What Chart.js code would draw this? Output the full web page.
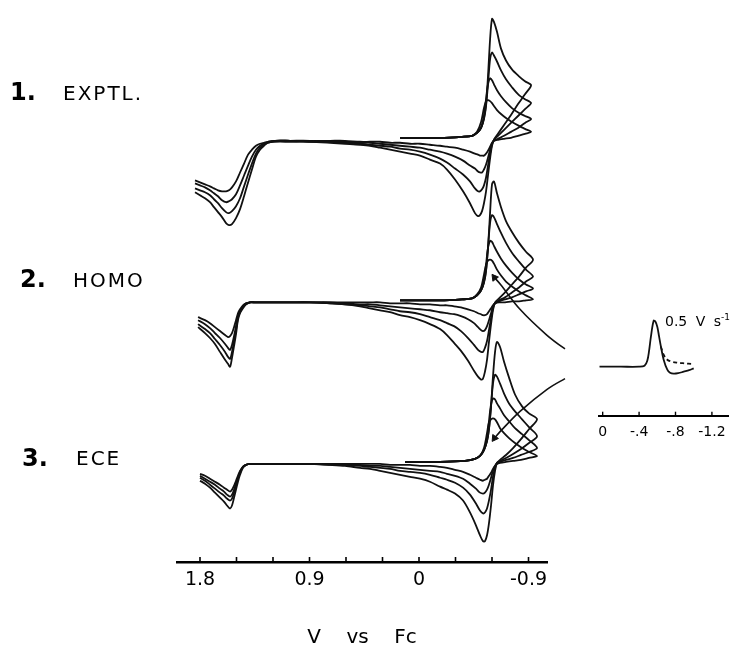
<!DOCTYPE html>
<html>
<head>
<meta charset="utf-8">
<script src="https://cdn.jsdelivr.net/npm/chart.js@4.4.1/dist/chart.umd.min.js"></script>
<style>
  html, body { margin: 0; padding: 0; background: #fff; }
  #wrap { position: relative; width: 737px; height: 648px; overflow: hidden; background: #fff; }
  #main { position: absolute; left: 0; top: 0; }
  #inset { position: absolute; left: 590px; top: 300px; }
  .lbl { position: absolute; font-family: "DejaVu Sans", sans-serif; color: #000; white-space: nowrap; line-height: 1; }
  .num { font-weight: bold; font-size: 24px; }
  .name { font-size: 20px; letter-spacing: 2px; }
  .rate { font-size: 14px; word-spacing: 4px; }
</style>
</head>
<body>
<div id="wrap">
  <canvas id="main" width="737" height="648"></canvas>
  <canvas id="inset" width="147" height="150"></canvas>
  <div class="lbl num" style="left:10px;top:80px">1.</div>
  <div class="lbl name" style="left:63px;top:83px">EXPTL.</div>
  <div class="lbl num" style="left:20px;top:267px">2.</div>
  <div class="lbl name" style="left:73px;top:270px">HOMO</div>
  <div class="lbl num" style="left:22px;top:446px">3.</div>
  <div class="lbl name" style="left:76px;top:448px">ECE</div>
  <div class="lbl rate" style="left:665px;top:313px">0.5 V s<sup style="font-size:9px">-1</sup></div>
</div>
<script>
// ---------------- main x axis ----------------
const xTickValues = [1.8, 1.5, 1.2, 0.9, 0.6, 0.3, 0, -0.3, -0.6, -0.9];
const xTickLabels = ['1.8', '', '', '0.9', '', '', '0', '', '', '-0.9'];
const xTitle = 'V    vs    Fc';

// vertical offsets of the three stacked panels (current units)
const panelOffset = [426, 263, 100];

// ---------------- panel 1 : EXPTL. ----------------
const p1FwdE = [0.156, -0.173, -0.353, -0.436, -0.477, -0.510, -0.534, -0.551, -0.567, -0.584, -0.600, -0.616, -0.641, -0.674, -0.715, -0.764, -0.822, -0.871, -0.921];
const p1FwdI = [
  [2, 2, 3, 4, 7, 12, 22, 36, 64, 101, 122, 119, 109, 92, 80, 71, 64, 59, 55],
  [2, 2, 3, 4, 7, 12, 21, 34, 56, 81, 88, 85, 79, 70, 61, 53, 45, 41, 37],
  [2, 2, 3, 4, 7, 12, 24, 41, 56, 62, 60, 56, 50, 44, 38, 32, 27, 24, 21],
  [2, 2, 3, 4, 8, 18, 32, 39, 40, 39, 37, 34, 30, 26, 22, 18, 14, 11, 8]
];
const p1RevE = [-0.871, -0.814, -0.756, -0.699, -0.649, -0.616, -0.600, -0.584, -0.567, -0.551, -0.534, -0.518, -0.501, -0.485, -0.460, -0.419, -0.362, -0.296, -0.230, -0.173, -0.090, -0.008, 0.074, 0.156, 0.238, 0.320, 0.403, 0.485, 0.608, 0.731, 0.896, 1.060, 1.184];
const p1RevI = [
  [46, 36, 25, 15, 6, 0, -6, -19, -36, -52, -64, -72, -76, -77, -74, -64, -52, -40, -30, -24, -20, -16, -14, -12, -10, -8, -6, -5, -4, -3, -2, -2, -2],
  [31, 24, 17, 10, 4, 0, -5, -14, -26, -38, -46, -50, -52, -52, -49, -42, -35, -29, -23, -19, -15, -12, -10, -9, -7, -6, -5, -4, -3, -2, -2, -1, -1],
  [17, 12, 8, 4, 1, -1, -4, -10, -18, -25, -30, -33, -33, -32, -29, -26, -21, -17, -14, -12, -10, -8, -7, -6, -5, -4, -3, -3, -2, -2, -1, -1, -1],
  [6, 4, 2, 1, 0, -1, -3, -7, -11, -14, -16, -16, -16, -15, -14, -12, -10, -8, -7, -6, -5, -4, -4, -3, -3, -2, -2, -2, -1, -1, -1, -1, -1]
];
const p1LeftE = [1.241, 1.274, 1.307, 1.340, 1.373, 1.405, 1.438, 1.471, 1.504, 1.537, 1.562, 1.586, 1.619, 1.652, 1.685, 1.718, 1.759, 1.800, 1.841];
const p1LeftI = [
  [-3, -6, -10, -17, -30, -43, -57, -70, -79, -85, -86, -84, -78, -73, -68, -63, -59, -56, -53],
  [-3, -5, -8, -14, -24, -35, -47, -59, -67, -72, -74, -73, -69, -64, -60, -56, -53, -51, -49],
  [-2, -4, -6, -10, -17, -26, -36, -46, -55, -60, -62, -63, -61, -57, -54, -51, -48, -46, -44],
  [-2, -3, -4, -6, -10, -15, -24, -33, -42, -48, -51, -52, -52, -51, -49, -47, -45, -43, -41]
];

// ---------------- panel 2 : HOMO ----------------
const p2FwdE = [0.156, -0.173, -0.353, -0.436, -0.477, -0.510, -0.534, -0.551, -0.567, -0.584, -0.600, -0.616, -0.641, -0.674, -0.715, -0.764, -0.822, -0.879, -0.937];
const p2FwdI = [
  [1, 1, 2, 3, 6, 11, 19, 31, 54, 89, 118, 121, 109, 95, 81, 70, 59, 50, 42],
  [1, 1, 2, 3, 6, 11, 19, 31, 54, 79, 87, 85, 78, 69, 59, 49, 40, 32, 25],
  [1, 1, 2, 3, 6, 11, 21, 37, 54, 61, 60, 56, 50, 43, 36, 29, 22, 17, 13],
  [1, 1, 2, 3, 7, 14, 27, 37, 41, 42, 41, 38, 32, 26, 20, 15, 10, 6, 2]
];
const p2RevE = [-0.879, -0.822, -0.764, -0.707, -0.658, -0.625, -0.608, -0.592, -0.575, -0.559, -0.542, -0.526, -0.510, -0.485, -0.452, -0.403, -0.345, -0.288, -0.230, -0.173, -0.090, -0.008, 0.074, 0.156, 0.238, 0.320, 0.403, 0.485, 0.608, 0.731, 0.896, 1.060, 1.225, 1.348];
const p2RevI = [
  [34, 25, 17, 9, 3, -1, -9, -23, -41, -59, -71, -78, -79, -76, -70, -60, -50, -42, -34, -28, -23, -19, -16, -14, -11, -9, -7, -5, -3, -2, -1, -1, -1, -1],
  [20, 14, 9, 4, 1, -2, -7, -17, -29, -40, -47, -51, -51, -49, -44, -37, -30, -25, -22, -19, -16, -13, -11, -10, -8, -6, -5, -4, -3, -2, -1, -1, -1, -1],
  [10, 7, 4, 2, 0, -2, -5, -12, -19, -25, -29, -30, -29, -26, -22, -18, -15, -13, -12, -11, -9, -8, -7, -6, -5, -4, -3, -3, -2, -1, -1, -1, -1, -1],
  [1, 0, 0, -1, -1, -2, -4, -7, -10, -13, -14, -14, -13, -12, -10, -8, -6, -5, -4, -4, -3, -3, -2, -2, -2, -1, -1, -1, -1, -1, -1, -1, -1, -1]
];
const p2LeftE = [1.389, 1.422, 1.447, 1.471, 1.488, 1.504, 1.520, 1.537, 1.553, 1.570, 1.594, 1.636, 1.677, 1.718, 1.759, 1.816];
const p2LeftI = [
  [-1, -3, -7, -12, -19, -33, -45, -57, -66, -63, -59, -51, -43, -37, -32, -26],
  [-1, -3, -6, -11, -17, -29, -40, -51, -58, -56, -51, -44, -38, -32, -28, -23],
  [-1, -2, -5, -10, -15, -25, -35, -44, -49, -47, -43, -37, -32, -27, -23, -19],
  [-1, -2, -4, -8, -12, -19, -26, -32, -35, -36, -34, -30, -26, -22, -19, -16]
];

// ---------------- panel 3 : ECE ----------------
const p3FwdE = [0.115, -0.173, -0.378, -0.460, -0.501, -0.534, -0.559, -0.575, -0.592, -0.608, -0.625, -0.641, -0.666, -0.699, -0.740, -0.789, -0.847, -0.904, -0.970];
const p3FwdI = [
  [1, 1, 2, 4, 7, 13, 22, 34, 57, 87, 112, 122, 117, 102, 86, 69, 57, 50, 44],
  [1, 1, 2, 4, 7, 13, 22, 34, 57, 80, 89, 87, 80, 70, 60, 52, 44, 36, 27],
  [1, 1, 2, 4, 7, 13, 24, 42, 59, 65, 64, 60, 55, 48, 42, 35, 29, 23, 15],
  [1, 1, 2, 4, 7, 15, 30, 41, 44, 45, 44, 41, 35, 30, 25, 20, 15, 11, 7]
];
const p3RevE = [-0.904, -0.838, -0.773, -0.715, -0.666, -0.641, -0.625, -0.608, -0.592, -0.575, -0.559, -0.542, -0.526, -0.501, -0.468, -0.419, -0.362, -0.296, -0.230, -0.173, -0.090, -0.008, 0.074, 0.156, 0.238, 0.320, 0.403, 0.485, 0.608, 0.731, 0.896, 1.060, 1.225, 1.348];
const p3RevI = [
  [34, 24, 15, 8, 3, 0, -8, -23, -43, -61, -73, -79, -79, -73, -63, -50, -38, -31, -27, -24, -19, -16, -14, -12, -10, -8, -6, -5, -3, -2, -1, -1, -1, -1],
  [20, 14, 9, 5, 2, 0, -5, -14, -27, -38, -46, -50, -51, -48, -41, -32, -25, -20, -17, -15, -12, -10, -9, -8, -6, -5, -4, -3, -2, -2, -1, -1, -1, -1],
  [11, 8, 5, 3, 1, 0, -3, -8, -15, -22, -27, -30, -31, -30, -26, -21, -16, -13, -11, -9, -8, -7, -6, -5, -4, -3, -3, -2, -2, -1, -1, -1, -1, -1],
  [5, 3, 2, 1, 0, -1, -3, -6, -10, -13, -16, -17, -18, -17, -15, -12, -9, -7, -5, -4, -3, -3, -2, -2, -2, -1, -1, -1, -1, -1, -1, -1, -1, -1]
];
const p3LeftE = [1.389, 1.422, 1.447, 1.471, 1.488, 1.504, 1.520, 1.537, 1.553, 1.578, 1.603, 1.636, 1.677, 1.718, 1.759, 1.800];
const p3LeftI = [
  [-1, -2, -5, -12, -19, -27, -35, -43, -46, -43, -39, -35, -30, -25, -21, -18],
  [-1, -2, -4, -10, -16, -23, -30, -36, -38, -36, -33, -30, -26, -22, -18, -15],
  [-1, -2, -4, -9, -15, -21, -27, -32, -34, -32, -29, -26, -22, -19, -16, -13],
  [-1, -2, -4, -8, -13, -18, -23, -27, -29, -27, -25, -22, -19, -16, -13, -11]
];

// ---------------- connector lines to the inset ----------------
const linkUpE = [-1.35, -1.20, -1.05, -0.83, -0.67, -0.62];   // panel 2 units
const linkUpI = [-60, -48, -34, -8, 17, 24];
const linkDownE = [-1.32, -1.20, -1.05, -0.83, -0.67, -0.62]; // panel 3 units
const linkDownI = [93, 85, 74, 52, 32, 25];

// ---------------- inset (0.5 V/s) ----------------
const insetTickValues = [0, -0.4, -0.8, -1.2];
const insetTickLabels = ['0', '-.4', '-.8', '-1.2'];
const insetBase = 49;
const insetSolidE = [0.037, -0.20, -0.40, -0.46, -0.49, -0.51, -0.53, -0.56, -0.58, -0.60, -0.62, -0.64, -0.67, -0.71, -0.74, -0.78, -0.83, -0.89, -0.95, -1.0];
const insetSolidI = [0, 0, 0, 1, 6, 16, 30, 46, 45, 40, 30, 20, 7, -3, -6, -7, -6.5, -5, -3.5, -1.6];
const insetDashE = [-0.64, -0.67, -0.71, -0.76, -0.82, -0.88, -0.94, -1.0];
const insetDashI = [20, 12, 7, 5, 4, 3.5, 3, 2.7];

// ---------------- helpers ----------------
const FONT = '"DejaVu Sans", "Liberation Sans", sans-serif';
function pts(Es, Is, off) {
  const out = [];
  for (let k = 0; k < Es.length; k++) out.push({ x: Es[k], y: off + Is[k] });
  return out;
}
function curve(fE, fI, rE, rI, lE, lI, off) {
  return pts(fE, fI, off).concat(pts(rE, rI, off), pts(lE, lI, off));
}
function lineDs(data, extra) {
  return Object.assign({
    data, borderColor: '#111', borderWidth: 1.8, pointRadius: 0,
    tension: 0.3, fill: false
  }, extra || {});
}
function labelFor(vals, labels, v) {
  for (let k = 0; k < vals.length; k++) if (Math.abs(vals[k] - v) < 1e-6) return labels[k];
  return '';
}
const upTicks = {
  id: 'upTicks',
  afterDraw(chart, args, opts) {
    const s = chart.scales.x, c = chart.ctx;
    c.save();
    c.strokeStyle = '#000';
    c.lineWidth = opts.width;
    for (const t of s.ticks) {
      const px = s.getPixelForValue(t.value);
      c.beginPath();
      c.moveTo(px, s.top);
      c.lineTo(px, s.top - opts.len);
      c.stroke();
    }
    c.restore();
  }
};

// ---------------- main chart ----------------
const panels = [
  [p1FwdE, p1FwdI, p1RevE, p1RevI, p1LeftE, p1LeftI],
  [p2FwdE, p2FwdI, p2RevE, p2RevI, p2LeftE, p2LeftI],
  [p3FwdE, p3FwdI, p3RevE, p3RevI, p3LeftE, p3LeftI]
];
const datasets = [];
panels.forEach((p, pi) => {
  for (let c = 0; c < 4; c++) {
    datasets.push(lineDs(curve(p[0], p[1][c], p[2], p[3][c], p[4], p[5][c], panelOffset[pi])));
  }
});
function arrowDs(Es, Is, off, rot) {
  const n = Es.length;
  return lineDs(pts(Es, Is, off), {
    borderWidth: 1.6, tension: 0.35, clip: false,
    pointRadius: (ctx) => ctx.dataIndex === n - 1 ? 4 : 0,
    pointStyle: 'triangle', pointRotation: rot,
    pointBackgroundColor: '#111', pointBorderColor: '#111', pointBorderWidth: 1
  });
}
datasets.push(arrowDs(linkUpE, linkUpI, panelOffset[1], -37));
datasets.push(arrowDs(linkDownE, linkDownI, panelOffset[2], -145));

new Chart(document.getElementById('main'), {
  type: 'line',
  data: { datasets },
  options: {
    responsive: false,
    animation: false,
    events: [],
    layout: { padding: { left: 177, right: 190, top: 0, bottom: 0 } },
    plugins: {
      legend: { display: false },
      tooltip: { enabled: false },
      upTicks: { len: 5, width: 1.6 }
    },
    scales: {
      x: {
        type: 'linear', reverse: true, min: -1.052, max: 1.989,
        afterBuildTicks: (s) => { s.ticks = xTickValues.map(v => ({ value: v })); },
        afterFit: (s) => { s.height = 86; },
        grid: { display: false, drawTicks: false },
        border: { display: true, width: 2.5, color: '#000' },
        ticks: {
          autoSkip: false, maxRotation: 0, padding: 7, color: '#000',
          font: { family: FONT, size: 19 },
          callback: (v) => labelFor(xTickValues, xTickLabels, v)
        },
        title: {
          display: true, text: xTitle, color: '#000',
          font: { family: FONT, size: 20, lineHeight: 1 },
          padding: { top: 0, bottom: 0 }
        }
      },
      y: { display: false, min: 0, max: 562 }
    }
  },
  plugins: [upTicks]
});

// ---------------- inset chart ----------------
new Chart(document.getElementById('inset'), {
  type: 'line',
  data: {
    datasets: [
      lineDs(pts(insetSolidE, insetSolidI, insetBase), { tension: 0.35 }),
      lineDs(pts(insetDashE, insetDashI, insetBase), { tension: 0.35, borderDash: [4, 3] })
    ]
  },
  options: {
    responsive: false,
    animation: false,
    events: [],
    layout: { padding: { left: 8.3, right: 8.7, top: 0, bottom: 0 } },
    plugins: {
      legend: { display: false },
      tooltip: { enabled: false },
      upTicks: { len: 4, width: 1.4 }
    },
    scales: {
      x: {
        type: 'linear', reverse: true, min: -1.38, max: 0.037,
        afterBuildTicks: (s) => { s.ticks = insetTickValues.map(v => ({ value: v })); },
        afterFit: (s) => { s.height = 34.3; },
        grid: { display: false, drawTicks: false },
        border: { display: true, width: 2, color: '#000' },
        ticks: {
          autoSkip: false, maxRotation: 0, padding: 8, color: '#000',
          font: { family: FONT, size: 14 },
          callback: (v) => labelFor(insetTickValues, insetTickLabels, v)
        }
      },
      y: { display: false, min: 0, max: 115.7 }
    }
  },
  plugins: [upTicks]
});
</script>
</body>
</html>
